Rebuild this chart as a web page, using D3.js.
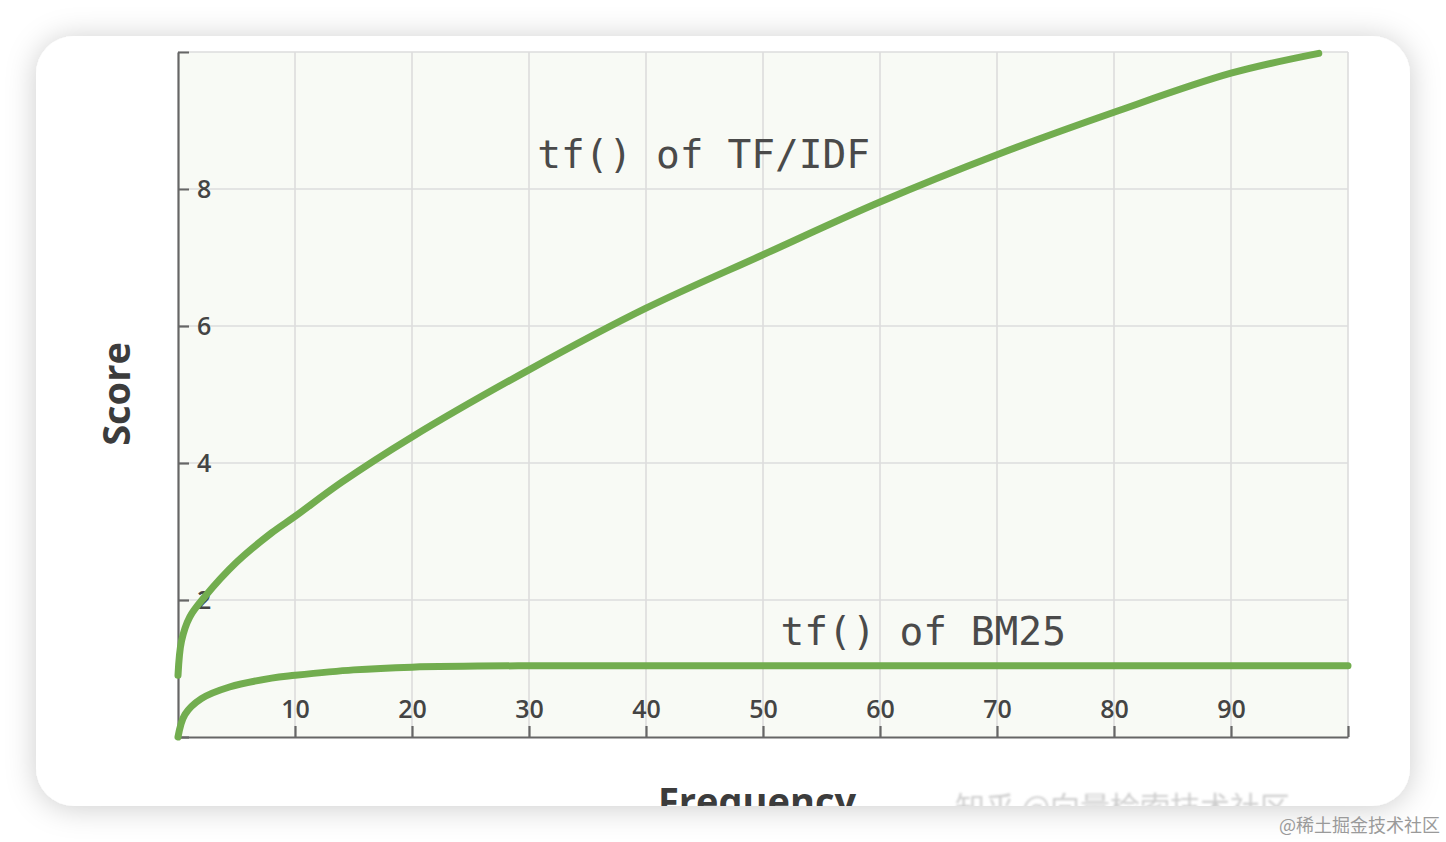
<!DOCTYPE html>
<html>
<head>
<meta charset="utf-8">
<script src="https://cdn.jsdelivr.net/npm/d3@7"></script>
<style>
  html, body { margin: 0; padding: 0; background: #ffffff; }
  svg { display: block; }
</style>
</head>
<body>
<svg id="chart" width="1446" height="842"></svg>
<script>
// ---- data ----
const tfidfX = [0, 0.3, 1, 2.3, 5, 8, 10, 14, 20, 30, 40, 50, 60, 70, 80, 90, 97.5];
const tfidfY = [0.9, 1.4, 1.75, 2.05, 2.55, 2.98, 3.22, 3.72, 4.38, 5.36, 6.26, 7.04, 7.81, 8.5, 9.12, 9.69, 9.98];
const bm25X = [0, 0.6, 2, 4.4, 8, 10, 15, 20, 30, 50, 75, 100];
const bm25Y = [0, 0.33, 0.56, 0.73, 0.86, 0.9, 0.98, 1.02, 1.04, 1.04, 1.04, 1.04];
const xTicks = [0, 10, 20, 30, 40, 50, 60, 70, 80, 90, 100];
const xTickLabels = ["", "10", "20", "30", "40", "50", "60", "70", "80", "90", ""];
const yTicks = [0, 2, 4, 6, 8, 10];
const yTickLabels = ["", "2", "4", "6", "8", ""];
const seriesLabels = ["tf() of TF/IDF", "tf() of BM25"];
const seriesLabelPos = [[30.7, 8.3], [51.5, 1.34]];
const xTitle = "Frequency";
const yTitle = "Score";
const watermark = "@稀土掘金技术社区";
const faintMark = "知乎 @向量检索技术社区";

// ---- layout ----
const svg = d3.select("#chart");
const W = 1446, H = 842;
const card = {x: 36, y: 36, w: 1374, h: 770, r: 38};
const x = d3.scaleLinear().domain([0, 100]).range([178, 1348]);
const y = d3.scaleLinear().domain([0, 10]).range([737, 52]);
const green = "#72ad4f";
const ink = "#444444";

const defs = svg.append("defs");
const f = defs.append("filter").attr("id", "shadow")
  .attr("x", "-10%").attr("y", "-10%").attr("width", "120%").attr("height", "125%");
f.append("feDropShadow").attr("dx", 0).attr("dy", 2).attr("stdDeviation", 15)
  .attr("flood-color", "#000").attr("flood-opacity", 0.2);
const blur = defs.append("filter").attr("id", "soft");
blur.append("feGaussianBlur").attr("stdDeviation", 1.2);
defs.append("clipPath").attr("id", "cardClip")
  .append("rect").attr("x", card.x).attr("y", card.y).attr("width", card.w).attr("height", card.h).attr("rx", card.r);

svg.append("rect").attr("width", W).attr("height", H).attr("fill", "#ffffff");
svg.append("rect").attr("x", card.x).attr("y", card.y).attr("width", card.w).attr("height", card.h)
  .attr("rx", card.r).attr("fill", "#ffffff").attr("filter", "url(#shadow)");

const g = svg.append("g").attr("clip-path", "url(#cardClip)");

// plot background
g.append("rect").attr("x", x(0)).attr("y", y(10)).attr("width", x(100) - x(0)).attr("height", y(0) - y(10))
  .attr("fill", "#f8faf5");

// grid
g.append("g").selectAll("line").data(xTicks.filter(d => d > 0)).join("line")
  .attr("x1", d => x(d)).attr("x2", d => x(d)).attr("y1", y(10)).attr("y2", y(0))
  .attr("stroke", "#dcdcdc").attr("stroke-width", 1.6);
g.append("g").selectAll("line").data(yTicks.filter(d => d > 0)).join("line")
  .attr("x1", x(0)).attr("x2", x(100)).attr("y1", d => y(d)).attr("y2", d => y(d))
  .attr("stroke", "#dcdcdc").attr("stroke-width", 1.6);

// axes
const yAxis = d3.axisRight(y).tickValues(yTicks).tickSize(11).tickSizeOuter(0).tickPadding(8)
  .tickFormat((d, i) => yTickLabels[i]);
const yG = g.append("g").attr("transform", `translate(${x(0)},0)`).call(yAxis);
const xAxis = d3.axisTop(x).tickValues(xTicks).tickSize(11).tickSizeOuter(0).tickPadding(8)
  .tickFormat((d, i) => xTickLabels[i]);
const xG = g.append("g").attr("transform", `translate(0,${y(0)})`).call(xAxis);
[xG, yG].forEach(a => {
  a.select(".domain").attr("stroke", "#666").attr("stroke-width", 2.2);
  a.selectAll(".tick line").attr("stroke", "#666").attr("stroke-width", 2.2);
  a.selectAll(".tick text").attr("fill", ink)
    .style("font-family", "'Open Sans', 'Noto Sans', sans-serif")
    .style("font-weight", 600).style("font-size", "25px");
});

// curves
const line = d3.line().x(d => x(d[0])).y(d => y(d[1])).curve(d3.curveCatmullRom.alpha(0.5));
const tfidf = tfidfX.map((v, i) => [v, tfidfY[i]]);
const bm25 = bm25X.map((v, i) => [v, bm25Y[i]]);
[tfidf, bm25].forEach(s => {
  g.append("path").datum(s).attr("d", line).attr("fill", "none")
    .attr("stroke", green).attr("stroke-width", 7).attr("stroke-linecap", "round").attr("stroke-linejoin", "round");
});

// series labels
g.append("g").selectAll("text").data(seriesLabels).join("text")
  .attr("x", (d, i) => x(seriesLabelPos[i][0])).attr("y", (d, i) => y(seriesLabelPos[i][1]))
  .attr("fill", "#4a4a4a")
  .style("font-family", "'DejaVu Sans Mono', 'Liberation Mono', monospace")
  .style("font-size", "39.5px")
  .text(d => d);

// axis titles
g.append("text").attr("transform", "translate(130,394) rotate(-90)")
  .attr("text-anchor", "middle").attr("fill", "#3c3c3c")
  .style("font-family", "'Open Sans', 'Noto Sans', sans-serif").style("font-weight", 700).style("font-size", "38px")
  .text(yTitle);
g.append("text").attr("x", 757).attr("y", 815)
  .attr("text-anchor", "middle").attr("fill", "#3c3c3c")
  .style("font-family", "'Open Sans', 'Noto Sans', sans-serif").style("font-weight", 700).style("font-size", "38px")
  .text(xTitle);
g.append("text").attr("x", 955).attr("y", 818)
  .attr("fill", "#cfcfcf").attr("filter", "url(#soft)")
  .style("font-family", "'Noto Sans CJK SC', sans-serif").style("font-size", "30px")
  .text(faintMark);

// watermark
svg.append("text").attr("x", 1440).attr("y", 832).attr("text-anchor", "end")
  .attr("fill", "#9a9a9a")
  .style("font-family", "'Noto Sans CJK SC', sans-serif").style("font-size", "18px")
  .text(watermark);
</script>
</body>
</html>
